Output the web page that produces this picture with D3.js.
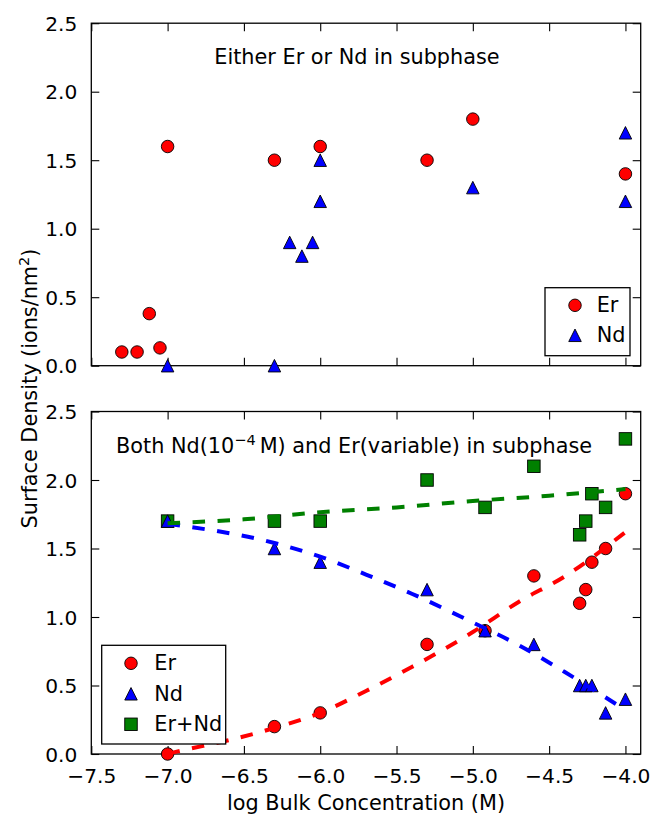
<!DOCTYPE html>
<html>
<head>
<meta charset="utf-8">
<script src="https://d3js.org/d3.v7.min.js"></script>
<style>
  html, body { margin: 0; padding: 0; background: #fff; }
  svg { display: block; }
  text { font-family: "DejaVu Sans", sans-serif; fill: #000; }
</style>
</head>
<body>
<svg id="chart" width="652" height="817"></svg>
<script>
// ---------- data ----------
const xTicks = [-7.5, -7.0, -6.5, -6.0, -5.5, -5.0, -4.5, -4.0];
const yTicks = [0.0, 0.5, 1.0, 1.5, 2.0, 2.5];

// Top panel: either Er or Nd in subphase
const topErX = [-7.3, -7.2, -7.12, -7.05, -7.0, -6.3, -6.0, -5.3, -5.0, -4.0];
const topErY = [0.10, 0.10, 0.38, 0.13, 1.60, 1.50, 1.60, 1.50, 1.80, 1.40];
const topNdX = [-7.0, -6.3, -6.2, -6.12, -6.05, -6.0, -6.0, -5.0, -4.0, -4.0];
const topNdY = [0.0, 0.0, 0.90, 0.80, 0.90, 1.20, 1.50, 1.30, 1.70, 1.20];

// Bottom panel: both Nd(1e-4 M) and Er(variable)
const botX   = [-7.0, -6.3, -6.0, -5.3, -4.92, -4.6, -4.3, -4.26, -4.22, -4.13, -4.0];
const botEr  = [0.0, 0.20, 0.30, 0.80, 0.90, 1.30, 1.10, 1.20, 1.40, 1.50, 1.90];
const botNd  = [1.70, 1.50, 1.40, 1.20, 0.90, 0.80, 0.50, 0.50, 0.50, 0.30, 0.40];
const botSum = [1.70, 1.70, 1.70, 2.00, 1.80, 2.10, 1.60, 1.70, 1.90, 1.80, 2.30];

// Dashed fit curves
const fitErX  = [-7.0, -6.94, -6.6, -6.3, -6.0, -5.7, -5.4, -5.0, -4.7, -4.4, -4.0];
const fitErY  = [0.0, 0.017, 0.10, 0.19, 0.30, 0.46, 0.635, 0.89, 1.11, 1.295, 1.62];
const fitNdX  = [-7.0, -6.3, -6.0, -5.7, -5.4, -5.0, -4.7, -4.4, -4.0];
const fitNdY  = [1.68, 1.54, 1.44, 1.31, 1.17, 0.96, 0.795, 0.60, 0.32];
const fitSumX = [-7.0, -6.5, -6.0, -5.5, -5.0, -4.5, -4.0];
const fitSumY = [1.685, 1.713, 1.765, 1.80, 1.847, 1.885, 1.934];

// ---------- layout ----------
const svg = d3.select("#chart");
const X0 = 91.3, X1 = 640.7;
const panels = [
  { top: 23.2, bottom: 365.7, labels: false },
  { top: 411.5, bottom: 754.0, labels: true }
];
const x = d3.scaleLinear().domain([-7.5, -3.9]).range([X0, X1]);
const fmt = d => d3.format(".1f")(d).replace("-", "\u2212");
const COL = { r: "#ff0000", b: "#0000ff", g: "#008000" };
const MS = 12.5;  // marker size

function drawFrame(p) {
  const y = d3.scaleLinear().domain([0, 2.5]).range([p.bottom, p.top]);
  const g = svg.append("g");
  const left = d3.axisLeft(y).tickValues(yTicks).tickSizeInner(-8).tickSizeOuter(0).tickPadding(14).tickFormat(fmt);
  const gl = g.append("g").attr("transform", `translate(${X0},0)`).call(left);
  const right = d3.axisRight(y).tickValues(yTicks).tickSizeInner(-8).tickSizeOuter(0).tickFormat("");
  const gr = g.append("g").attr("transform", `translate(${X1},0)`).call(right);
  const bottom = d3.axisBottom(x).tickValues(xTicks).tickSizeInner(-8).tickSizeOuter(0).tickPadding(15)
      .tickFormat(p.labels ? fmt : "");
  const gb = g.append("g").attr("transform", `translate(0,${p.bottom})`).call(bottom);
  const top = d3.axisTop(x).tickValues(xTicks).tickSizeInner(-8).tickSizeOuter(0).tickFormat("");
  const gt = g.append("g").attr("transform", `translate(0,${p.top})`).call(top);
  [gl, gr, gb, gt].forEach(a => {
    a.select(".domain").remove();
    a.selectAll(".tick line").attr("stroke", "#000").attr("stroke-width", 1.1);
    a.selectAll("text").style("font-family", "DejaVu Sans").style("font-size", "20.2px").attr("fill", "#000");
  });
  gl.selectAll(".tick text").attr("dy", "0.36em");
  gb.selectAll(".tick text").attr("dy", "0.71em");
  g.append("rect").attr("x", X0).attr("y", p.top).attr("width", X1 - X0).attr("height", p.bottom - p.top)
    .attr("fill", "none").attr("stroke", "#000").attr("stroke-width", 1.3);
  return y;
}

function marker(sel, type, fill) {
  const h = MS / 2;
  if (type === "o") {
    sel.append("circle").attr("r", h).attr("fill", fill).attr("stroke", "#000").attr("stroke-width", 0.9);
  } else if (type === "^") {
    sel.append("path").attr("d", `M0,${-h}L${-h},${h}L${h},${h}Z`).attr("fill", fill).attr("stroke", "#000").attr("stroke-width", 0.9);
  } else {
    sel.append("rect").attr("x", -h).attr("y", -h).attr("width", MS).attr("height", MS)
      .attr("fill", fill).attr("stroke", "#000").attr("stroke-width", 0.9);
  }
}

function points(xs, ys, y, type, fill) {
  const data = xs.map((v, i) => [v, ys[i]]);
  svg.append("g").selectAll("g").data(data).join("g")
    .attr("transform", d => `translate(${x(d[0])},${y(d[1])})`)
    .each(function () { marker(d3.select(this), type, fill); });
}

function fitLine(xs, ys, y, color) {
  const data = xs.map((v, i) => [v, ys[i]]);
  const line = d3.line().x(d => x(d[0])).y(d => y(d[1])).curve(d3.curveMonotoneX);
  svg.append("path").datum(data).attr("d", line).attr("fill", "none")
    .attr("stroke", color).attr("stroke-width", 4).attr("stroke-dasharray", "12.5,12.5");
}

function legend(bx, by, bw, bh, mx, tx, entries, y0, dy) {
  const g = svg.append("g");
  g.append("rect").attr("x", bx).attr("y", by).attr("width", bw).attr("height", bh)
    .attr("fill", "#fff").attr("stroke", "#000").attr("stroke-width", 1.3);
  entries.forEach((e, i) => {
    const cy = y0 + i * dy;
    const m = g.append("g").attr("transform", `translate(${mx},${cy})`);
    marker(m, e.type, e.fill);
    g.append("text").attr("x", tx).attr("y", cy + 7).style("font-size", "20.8px").text(e.label);
  });
}

// ---------- top panel ----------
const yTop = drawFrame(panels[0]);
points(topErX, topErY, yTop, "o", COL.r);
points(topNdX, topNdY, yTop, "^", COL.b);
svg.append("text").attr("x", 214.3).attr("y", 64).style("font-size", "20.8px").text("Either Er or Nd in subphase");
legend(545, 287.7, 85, 68, 575, 596.7,
  [{ type: "o", fill: COL.r, label: "Er" }, { type: "^", fill: COL.b, label: "Nd" }], 305.3, 30);

// ---------- bottom panel ----------
const yBot = drawFrame(panels[1]);
points(botX, botEr, yBot, "o", COL.r);
points(botX, botSum, yBot, "s", COL.g);
points(botX, botNd, yBot, "^", COL.b);
fitLine(fitErX, fitErY, yBot, COL.r);
fitLine(fitNdX, fitNdY, yBot, COL.b);
fitLine(fitSumX, fitSumY, yBot, COL.g);

const t2 = svg.append("text").attr("x", 116).attr("y", 452.7).style("font-size", "20.8px");
t2.append("tspan").text("Both Nd(10");
t2.append("tspan").attr("dy", -8).style("font-size", "14.5px").text("\u22124");
t2.append("tspan").attr("dy", 8).attr("dx", 4).text("M) and Er(variable) in subphase");

legend(101.7, 645.3, 124, 98.7, 131, 154.3,
  [{ type: "o", fill: COL.r, label: "Er" }, { type: "^", fill: COL.b, label: "Nd" },
   { type: "s", fill: COL.g, label: "Er+Nd" }], 663.3, 30.5);

// ---------- axis titles ----------
svg.append("text").attr("x", (X0 + X1) / 2).attr("y", 809.5).attr("text-anchor", "middle")
  .style("font-size", "20.8px").text("log Bulk Concentration (M)");

const yl = svg.append("text").attr("transform", "translate(37,388.5) rotate(-90)")
  .attr("text-anchor", "middle").style("font-size", "20.8px");
yl.append("tspan").text("Surface Density (ions/nm");
yl.append("tspan").attr("dy", -8).style("font-size", "14.5px").text("2");
yl.append("tspan").attr("dy", 8).text(")");
</script>
</body>
</html>
